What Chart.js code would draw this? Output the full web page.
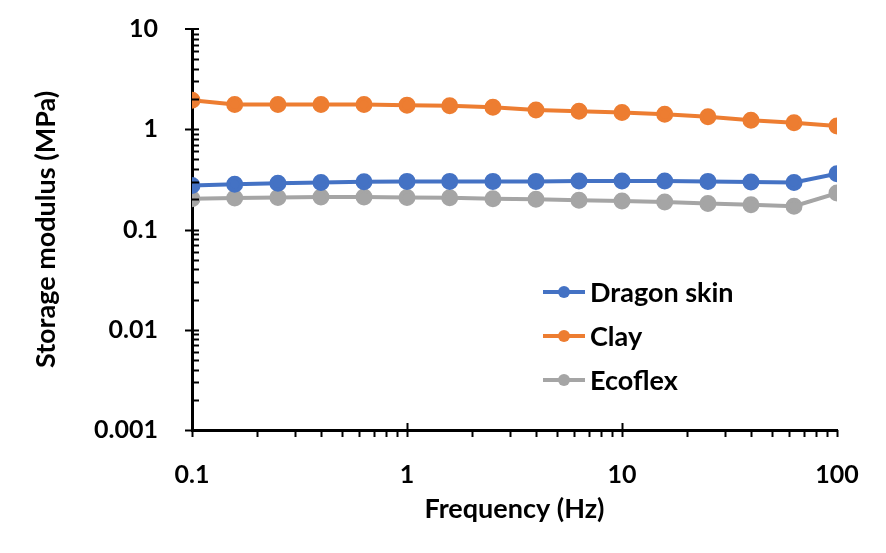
<!DOCTYPE html>
<html>
<head>
<meta charset="utf-8">
<script src="https://cdn.jsdelivr.net/npm/chart.js@4.4.0/dist/chart.umd.min.js"></script>
<style>
  html, body { margin: 0; padding: 0; background: #fff; }
  #wrap { width: 886px; height: 553px; }
</style>
</head>
<body>
<div id="wrap"><canvas id="grafico"></canvas></div>
<script>
const frequencias = [0.1, 0.158, 0.251, 0.398, 0.631, 1, 1.58, 2.51, 3.98, 6.31, 10, 15.8, 25.1, 39.8, 63.1, 100];
const dragonSkin = [0.275, 0.282, 0.290, 0.295, 0.300, 0.302, 0.302, 0.302, 0.302, 0.304, 0.304, 0.304, 0.302, 0.297, 0.295, 0.360];
const clay = [1.95, 1.77, 1.77, 1.77, 1.77, 1.74, 1.72, 1.66, 1.56, 1.51, 1.47, 1.41, 1.33, 1.23, 1.16, 1.08];
const ecoflex = [0.203, 0.206, 0.209, 0.211, 0.211, 0.209, 0.207, 0.203, 0.200, 0.196, 0.192, 0.188, 0.182, 0.177, 0.171, 0.231];
const xTicks = [0.1, 1, 10, 100];
const yTicks = [0.001, 0.01, 0.1, 1, 10];

const fonte = "Lato";

function pontos(vals) {
    return vals.map((v, i) => ({ x: frequencias[i], y: v }));
}

function serie(label, vals, cor) {
    return {
        label: label,
        data: pontos(vals),
        borderColor: cor,
        backgroundColor: cor,
        borderWidth: 4,
        pointRadius: 6.5,
        pointHoverRadius: 6.5,
        showLine: true,
        tension: 0
    };
}

// minor/major ticks like the excel chart
const marcas = {
    id: "marcas",
    afterDraw(chart) {
        const ctx = chart.ctx;
        const xs = chart.scales.x, ys = chart.scales.y;
        ctx.save();
        ctx.strokeStyle = "#000";
        ctx.lineWidth = 2;
        for (let d = 0.001; d < 10; d *= 10) {
            for (let k = 1; k <= 9; k++) {
                const py = Math.round(ys.getPixelForValue(d * k)) + 0.5;
                const x0 = k === 1 ? xs.left - 7 : xs.left;
                ctx.beginPath();
                ctx.moveTo(x0, py);
                ctx.lineTo(xs.left + 7, py);
                ctx.stroke();
            }
        }
        ctx.beginPath();
        ctx.moveTo(xs.left - 7, ys.top);
        ctx.lineTo(xs.left + 7, ys.top);
        ctx.stroke();
        for (let d = 0.1; d < 100; d *= 10) {
            for (let k = 1; k <= 9; k++) {
                const px = Math.round(xs.getPixelForValue(d * k)) + 0.5;
                const y0 = k === 1 ? ys.bottom - 7 : ys.bottom;
                ctx.beginPath();
                ctx.moveTo(px, y0);
                ctx.lineTo(px, ys.bottom + 7);
                ctx.stroke();
            }
        }
        ctx.beginPath();
        ctx.moveTo(xs.right + 0.5, ys.bottom);
        ctx.lineTo(xs.right + 0.5, ys.bottom + 7);
        ctx.stroke();
        ctx.restore();
    }
};

const legenda = {
    id: "legenda",
    afterDraw(chart) {
        const ctx = chart.ctx;
        ctx.save();
        ctx.font = "bold 27px " + fonte;
        ctx.textBaseline = "middle";
        chart.data.datasets.forEach((ds, i) => {
            const y = 292 + i * 44;
            ctx.strokeStyle = ds.borderColor;
            ctx.lineWidth = 4;
            ctx.beginPath();
            ctx.moveTo(543, y);
            ctx.lineTo(585, y);
            ctx.stroke();
            ctx.fillStyle = ds.borderColor;
            ctx.beginPath();
            ctx.arc(564, y, 6, 0, Math.PI * 2);
            ctx.fill();
            ctx.fillStyle = "#000";
            ctx.fillText(ds.label, 590, y + 1);
        });
        ctx.restore();
    }
};

function rotulo(v) {
    return String(v);
}

new Chart(document.getElementById("grafico"), {
    type: "scatter",
    data: {
        datasets: [
            serie("Dragon skin", dragonSkin, "#4472C4"),
            serie("Clay", clay, "#ED7D31"),
            serie("Ecoflex", ecoflex, "#A5A5A5")
        ]
    },
    options: {
        responsive: true,
        maintainAspectRatio: false,
        animation: false,
        layout: { padding: { top: 29, right: 49, left: 0, bottom: 0 } },
        scales: {
            x: {
                type: "logarithmic",
                min: 0.1,
                max: 100,
                afterBuildTicks: (s) => { s.ticks = xTicks.map(v => ({ value: v })); },
                afterFit: (s) => { s.height = 123; s.paddingLeft = 0; s.paddingRight = 0; },
                ticks: {
                    callback: rotulo,
                    color: "#000",
                    padding: 22,
                    maxRotation: 0,
                    font: { family: fonte, size: 25, weight: "bold" }
                },
                grid: { display: false },
                border: { display: true, color: "#000", width: 3 },
                title: {
                    display: true,
                    text: "Frequency (Hz)",
                    color: "#000",
                    padding: { top: 0, bottom: 28 },
                    font: { family: fonte, size: 27, weight: "bold" }
                }
            },
            y: {
                type: "logarithmic",
                min: 0.001,
                max: 10,
                afterBuildTicks: (s) => { s.ticks = yTicks.map(v => ({ value: v })); },
                afterFit: (s) => { s.width = 192; s.paddingTop = 0; s.paddingBottom = 0; },
                ticks: {
                    callback: rotulo,
                    color: "#000",
                    padding: 26,
                    font: { family: fonte, size: 25, weight: "bold" }
                },
                grid: { display: false },
                border: { display: true, color: "#000", width: 3 },
                title: {
                    display: true,
                    text: "Storage modulus (MPa)",
                    color: "#000",
                    padding: { top: 30, bottom: 0 },
                    font: { family: fonte, size: 27, weight: "bold" }
                }
            }
        },
        plugins: {
            legend: { display: false },
            tooltip: { enabled: false }
        }
    },
    plugins: [marcas, legenda]
});
</script>
</body>
</html>
